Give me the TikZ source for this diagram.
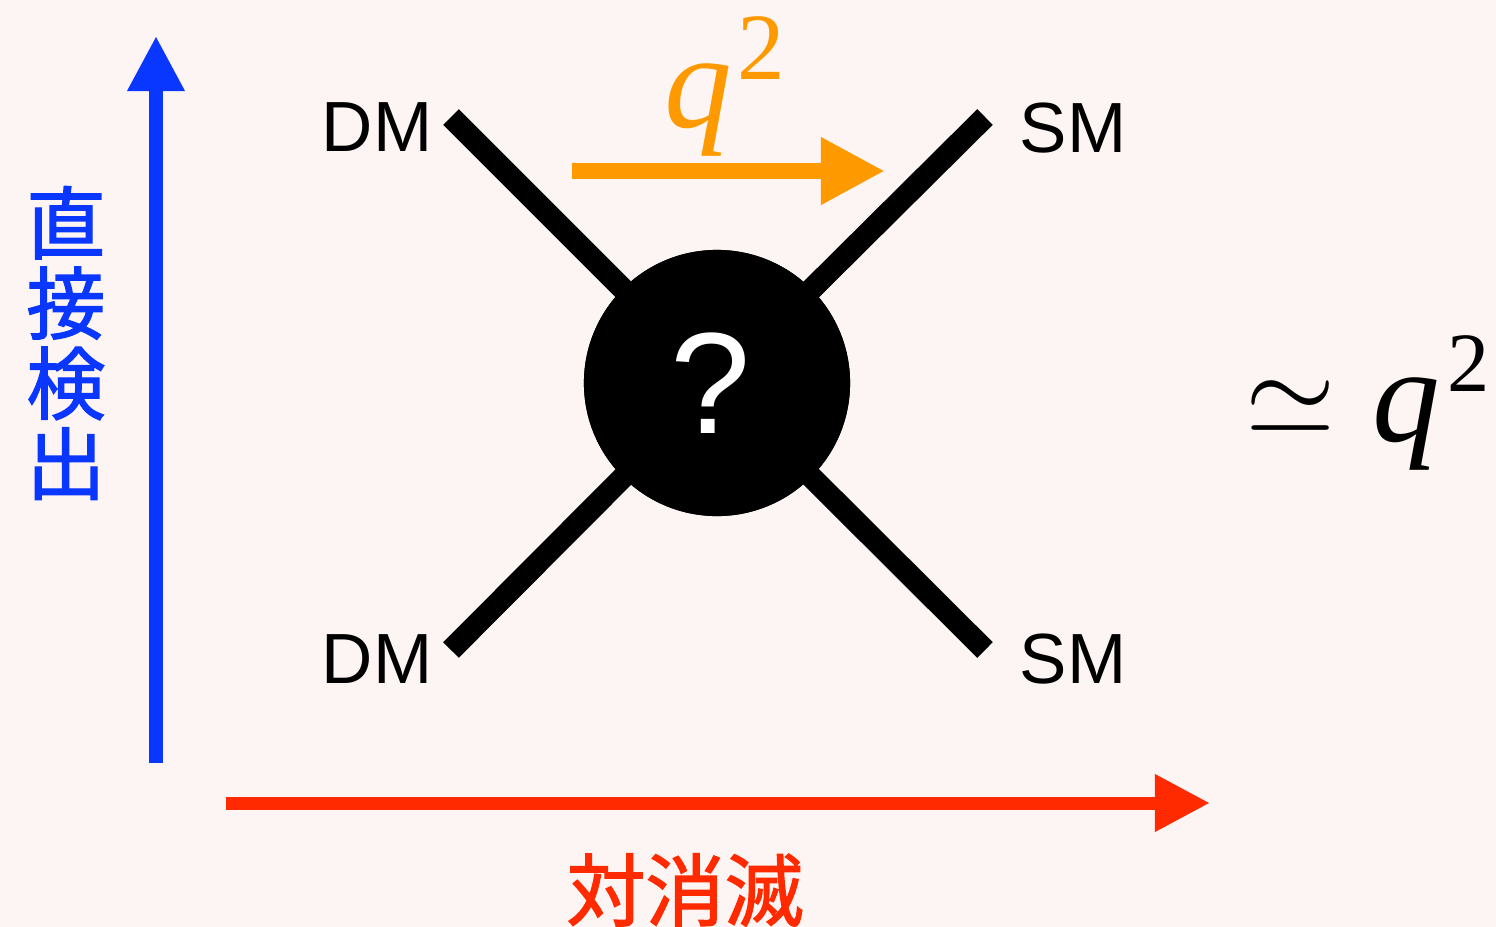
\RequirePackage{fix-cm}
\documentclass[tikz,border=0pt]{standalone}
\usepackage{fontspec}
\usepackage{xcolor}
\usetikzlibrary{arrows.meta,positioning}
\newfontfamily\labelfont{Liberation Sans}
\newfontfamily\qfont{Liberation Serif}
\newfontfamily\cjk{Noto Sans CJK JP}[FakeBold=1.6]
\definecolor{paper}{HTML}{FDF5F3}
\definecolor{detblue}{HTML}{0A37FF}
\definecolor{annred}{HTML}{FF2A00}
\definecolor{momorange}{HTML}{FF9900}
\tikzset{
  axisarrow/.style={
    -{Triangle[length=0.55cm, width=0.54cm]}, line width=0.13cm, color=#1
  },
  axisarrow/.default=detblue,
  legline/.style={line width=0.22cm, color=black},
  blob/.style={circle, fill=black, minimum size=2.66cm, inner sep=0pt},
  partlabel/.style={
    font=\labelfont\fontsize{20.2pt}{20.2pt}\selectfont, inner sep=0pt
  },
  qmark/.style={
    font=\labelfont\fontsize{41pt}{41pt}\selectfont, text=white, inner sep=0pt
  },
  cjklabel/.style={
    font=\cjk\fontsize{22.5pt}{22.8pt}\selectfont, text=#1,
    align=center, inner sep=0pt
  },
  cjklabel/.default=detblue,
}

\begin{document}
\begin{tikzpicture}[x=0.01cm, y=-0.01cm]
\fill[paper] (0,0) rectangle (1496,927);
\useasboundingbox (0,0) rectangle (1496,927);

% axes
\coordinate (vbot) at (156,763);
\coordinate (vtop) at (156,36);
\coordinate (hleft) at (226,803);
\coordinate (hright) at (1210,803);
\draw[axisarrow=detblue] (vbot) -- (vtop);
\draw[axisarrow=annred] (hleft) -- (hright);
\node[cjklabel=detblue] (det) at (66,343) {直\\接\\検\\出};
\node[cjklabel=annred] (ann) at (685,890) {対消滅};

% vertex
\coordinate (dmtop) at (451,117);
\coordinate (dmbot) at (451,650);
\coordinate (smtop) at (985,117);
\coordinate (smbot) at (985,650);
\node[blob] (vertex) at (717,383) {};
\draw[legline] (dmtop) -- (vertex.center);
\draw[legline] (dmbot) -- (vertex.center);
\draw[legline] (smtop) -- (vertex.center);
\draw[legline] (smbot) -- (vertex.center);
\node[blob] at (vertex) {};
\node[qmark] (quest) at ([xshift=-0.06cm]vertex.center) {?};

\node[partlabel, anchor=base east] (dm1) at (433,151) {DM};
\node[partlabel, anchor=base east] (dm2) at (433,683) {DM};
\node[partlabel, anchor=base west] (sm1) at (1019,152) {SM};
\node[partlabel, anchor=base west] (sm2) at (1019,683) {SM};

% momentum transfer
\coordinate (qstart) at (572,171);
\coordinate (qend) at (885,171);
\draw[axisarrow=momorange, line width=0.16cm,
  -{Triangle[length=0.64cm, width=0.63cm]}] (qstart) -- (qend);
\node[anchor=base west, text=momorange, inner sep=0pt] (qtop) at (664,127)
  {\qfont\fontsize{38.5pt}{38.5pt}\selectfont\itshape q\kern1.4pt\raisebox{13.4pt}{\fontsize{27pt}{27pt}\selectfont\upshape 2}};

% scaling
\node[inner sep=0pt] (sim) at (1291,408) {\fontsize{33pt}{33pt}\selectfont$\simeq$};
\node[anchor=base west, inner sep=0pt] (qright) at (1372,441)
  {\qfont\fontsize{38.5pt}{38.5pt}\selectfont\itshape q\kern2pt\raisebox{14pt}{\fontsize{24pt}{24pt}\selectfont\upshape 2}};
\end{tikzpicture}
\end{document}
